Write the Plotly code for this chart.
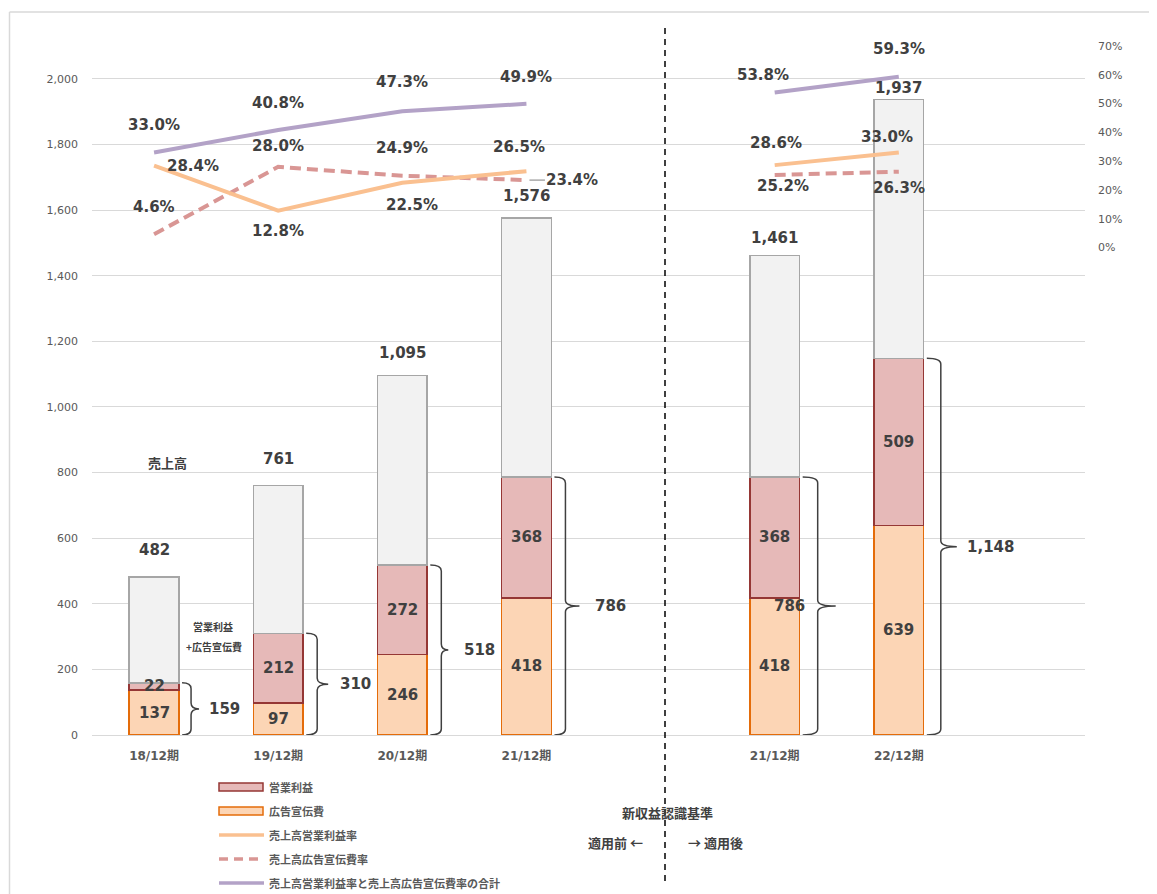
import plotly.graph_objects as go

# ---------------- data ----------------
categories = ["18/12期", "19/12期", "20/12期", "21/12期", "", "21/12期", "22/12期", ""]
sales = [482, 761, 1095, 1576, None, 1461, 1937, None]
ad_cost = [137, 97, 246, 418, None, 418, 639, None]          # 広告宣伝費
op_profit = [22, 212, 272, 368, None, 368, 509, None]         # 営業利益
op_plus_ad = [159, 310, 518, 786, None, 786, 1148, None]      # 営業利益+広告宣伝費
solid_rate = [28.4, 12.8, 22.5, 26.5, None, 28.6, 33.0, None]   # solid orange line
dashed_rate = [4.6, 28.0, 24.9, 23.4, None, 25.2, 26.3, None]   # dashed line
sum_rate = [33.0, 40.8, 47.3, 49.9, None, 53.8, 59.3, None]     # purple line
left_ticks = [0, 200, 400, 600, 800, 1000, 1200, 1400, 1600, 1800, 2000]
right_ticks = [0, 10, 20, 30, 40, 50, 60, 70]
legend_labels = ["営業利益", "広告宣伝費", "売上高営業利益率", "売上高広告宣伝費率",
                 "売上高営業利益率と売上高広告宣伝費率の合計"]

# ---------------- styles ----------------
FONT = "DejaVu Sans, Noto Sans CJK JP, sans-serif"
JFONT = "Noto Sans CJK JP, DejaVu Sans, sans-serif"
TXT = "#404040"
AX = "#595959"
C_AD_FILL, C_AD_LINE = "#FCD5B5", "#E46C0A"
C_OP_FILL, C_OP_LINE = "#E6B9B8", "#953735"
C_REST_FILL, C_REST_LINE = "#F2F2F2", "#A6A6A6"
C_SOLID, C_DASH, C_SUM = "#FAC090", "#D99694", "#B3A2C7"

OFF = 8                      # page body margin
W, H = 1157 - OFF, 894 - OFF
ML, MT = 92 - OFF, 44 - OFF
MR = W - (1085 - OFF)
MB = H - (735 - OFF)
PW, PH = W - ML - MR, H - MT - MB
UNIT_PX = PW / len(categories)   # pixels per category slot


def px_x(p):
    return (p - OFF - ML) / PW


def px_y(p):
    return (H - MB - (p - OFF)) / PH


x = list(range(len(categories)))
rest = [None if s is None else s - a - o for s, a, o in zip(sales, ad_cost, op_profit)]
BAR_W = 0.4

fig = go.Figure()
fig.add_bar(x=x, y=ad_cost, width=BAR_W, marker=dict(color=C_AD_FILL, line=dict(color=C_AD_LINE, width=1.5)),
            showlegend=False, hoverinfo="skip")
fig.add_bar(x=x, y=op_profit, width=BAR_W, marker=dict(color=C_OP_FILL, line=dict(color=C_OP_LINE, width=1.5)),
            showlegend=False, hoverinfo="skip")
fig.add_bar(x=x, y=rest, width=BAR_W, marker=dict(color=C_REST_FILL, line=dict(color=C_REST_LINE, width=1.5)),
            showlegend=False, hoverinfo="skip")

fig.add_scatter(x=x, y=dashed_rate, yaxis="y2", mode="lines", connectgaps=False,
                line=dict(color=C_DASH, width=4, dash="11px,6px"), showlegend=False, hoverinfo="skip")
fig.add_scatter(x=x, y=solid_rate, yaxis="y2", mode="lines", connectgaps=False,
                line=dict(color=C_SOLID, width=4), showlegend=False, hoverinfo="skip")
fig.add_scatter(x=x, y=sum_rate, yaxis="y2", mode="lines", connectgaps=False,
                line=dict(color=C_SUM, width=4), showlegend=False, hoverinfo="skip")

ann = []
shapes = []
lbl_font = dict(family=FONT, size=15, color=TXT, weight="bold")

# line labels (pixel offsets)
sum_off = [(0, 27), (0, 27), (0, 29), (0, 27), None, (-12, 18), (0, 28)]
solid_off = [(39, 0), (0, -20), (10, -22), (-7, 24), None, (1, 22), (-12, 15)]
dash_off = [(0, 27), (0, 21), (0, 28), None, None, (8, -11), (0, -16)]
for series, offs in ((sum_rate, sum_off), (solid_rate, solid_off), (dashed_rate, dash_off)):
    for i, v in enumerate(series):
        if v is None or i >= len(offs) or offs[i] is None:
            continue
        ann.append(dict(x=i, y=v, xref="x", yref="y2", text=f"{v:.1f}%", showarrow=False,
                        xshift=offs[i][0], yshift=offs[i][1], font=lbl_font))
# leader-line label
ann.append(dict(x=3, y=dashed_rate[3], xref="x", yref="y2", text=f"{dashed_rate[3]:.1f}%", showarrow=True,
                arrowhead=0, ax=46, ay=0, standoff=3, arrowcolor="#7F7F7F", arrowwidth=1, font=lbl_font))

# bar labels
sales_off = [27, 26, 23, 22, None, 18, 11]
for i, s in enumerate(sales):
    if s is None:
        continue
    ann.append(dict(x=i, y=s, xref="x", yref="y", text=f"{s:,}", showarrow=False, yshift=sales_off[i],
                    font=lbl_font))
    a, o = ad_cost[i], op_profit[i]
    ann.append(dict(x=i, y=a / 2, xref="x", yref="y", text=f"{a:,}", showarrow=False, font=lbl_font))
    ann.append(dict(x=i, y=a + o / 2, xref="x", yref="y", text=f"{o:,}", showarrow=False, font=lbl_font))

# braces (pixel offsets from bar centre: start, vertical stroke, tip; label gap)
brace_start_px = [28, 28, 28, 28, None, 28, 28]
brace_vert_px = [37, 39, 39, 39, None, 43, 42]
brace_tip_px = [45, 50, 46, 53, None, 61, 58]
brace_lbl_dx = [8, 10, 14, 14, None, -64, 8]
r = 18
for i, t in enumerate(op_plus_ad):
    if t is None:
        continue
    x0 = i + brace_start_px[i] / UNIT_PX
    x1 = i + brace_vert_px[i] / UNIT_PX
    x2 = i + brace_tip_px[i] / UNIT_PX
    m = t / 2
    path = (f"M {x0},{t} Q {x1},{t} {x1},{t - r} L {x1},{m + r} Q {x1},{m} {x2},{m} "
            f"Q {x1},{m} {x1},{m - r} L {x1},{r} Q {x1},0 {x0},0")
    shapes.append(dict(type="path", path=path, xref="x", yref="y", line=dict(color=TXT, width=1.5)))
    ann.append(dict(x=x2, y=m, xref="x", yref="y", text=f"{t:,}", showarrow=False, xanchor="left",
                    xshift=brace_lbl_dx[i], font=lbl_font))


def paper_text(px, py, text, size, anchor="center"):
    ann.append(dict(x=px_x(px), y=px_y(py), xref="paper", yref="paper", text=text, showarrow=False,
                    xanchor=anchor, yanchor="middle",
                    font=dict(family=JFONT, size=size, color=TXT, weight="bold")))


paper_text(167, 463, "売上高", 13)
paper_text(213, 626, "営業利益", 10)
paper_text(214, 646, "+広告宣伝費", 10)
paper_text(667, 812, "新収益認識基準", 13)
paper_text(615, 843, "適用前 ←", 13)
paper_text(715, 843, "→ 適用後", 13)

# separator + frame
shapes.append(dict(type="line", xref="paper", yref="paper", x0=px_x(665), x1=px_x(665), y0=px_y(28),
                   y1=px_y(886), line=dict(color="#000000", width=1.5, dash="6px,5px")))
shapes.append(dict(type="line", xref="paper", yref="paper", x0=px_x(9.5), x1=px_x(9.5), y0=px_y(12),
                   y1=px_y(900), line=dict(color="#D9D9D9", width=1.5)))
shapes.append(dict(type="line", xref="paper", yref="paper", x0=px_x(9.5), x1=px_x(1165), y0=px_y(12),
                   y1=px_y(12), line=dict(color="#D9D9D9", width=1.5)))

# custom legend
rows = [787, 811, 835, 859, 883]
kinds = [("rect", C_OP_FILL, C_OP_LINE), ("rect", C_AD_FILL, C_AD_LINE), ("line", C_SOLID, "solid"),
         ("line", C_DASH, "9px,6px"), ("line", C_SUM, "solid")]
for ry, (kind, c1, c2), lab in zip(rows, kinds, legend_labels):
    if kind == "rect":
        shapes.append(dict(type="rect", xref="paper", yref="paper", x0=px_x(219), x1=px_x(263),
                           y0=px_y(ry - 4), y1=px_y(ry + 4), fillcolor=c1, line=dict(color=c2, width=1.5)))
    else:
        shapes.append(dict(type="line", xref="paper", yref="paper", x0=px_x(219), x1=px_x(264),
                           y0=px_y(ry), y1=px_y(ry), line=dict(color=c1, width=3.5, dash=c2)))
    ann.append(dict(x=px_x(267), y=px_y(ry), xref="paper", yref="paper", text=lab, showarrow=False,
                    xanchor="left", yanchor="middle",
                    font=dict(family=JFONT, size=11, color=AX, weight="bold")))

fig.update_layout(
    width=W, height=H, margin=dict(l=ML, r=MR, t=MT, b=MB, autoexpand=False),
    paper_bgcolor="white", plot_bgcolor="white", barmode="stack", bargap=0.6,
    font=dict(family=FONT, color=AX),
    xaxis=dict(range=[-0.5, len(categories) - 0.5], tickvals=[i for i, c in enumerate(categories) if c],
               ticktext=[c for c in categories if c], showgrid=False, zeroline=False, showline=False,
               tickfont=dict(family=FONT, size=12, color=AX, weight="bold"), ticklabelstandoff=12),
    yaxis=dict(range=[0, 2106], tickvals=left_ticks, ticktext=[f"{v:,}" for v in left_ticks],
               showgrid=True, gridcolor="#D9D9D9",
               gridwidth=1, zeroline=True, zerolinecolor="#D9D9D9", zerolinewidth=1, showline=False,
               tickfont=dict(family=FONT, size=11, color=AX), ticklabelstandoff=13),
    yaxis2=dict(overlaying="y", side="right", range=[-169.3, 70.66], tickvals=right_ticks,
                ticktext=[f"{v}%" for v in right_ticks],
                showgrid=False, zeroline=False, showline=False,
                tickfont=dict(family=FONT, size=11, color=AX), ticklabelstandoff=12),
    annotations=ann, shapes=shapes,
)

fig.write_html("out.html")
